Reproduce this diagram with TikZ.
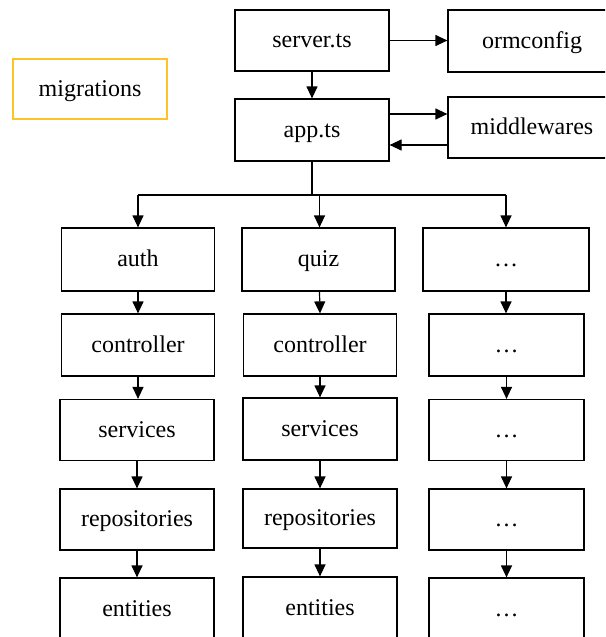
\documentclass[tikz,border=0pt]{standalone}
\usepackage{fontspec}
\setmainfont{Liberation Serif}
\usetikzlibrary{arrows.meta}
\definecolor{migyellow}{RGB}{252,196,40}
\tikzset{
  box/.style={draw, line width=1.2pt, inner sep=0pt, align=center,
    text height=17pt, text depth=3pt,
    font=\fontsize{24}{28}\selectfont},
  wire/.style={line width=1.2pt},
  arr/.style={wire, -{Triangle[length=12pt,width=11pt]}}
}
\begin{document}
\begin{tikzpicture}[x=1pt, y=-1pt]
\useasboundingbox (0,0) rectangle (605,637);
\clip (0,0) rectangle (605,637);

% top level
\node[box, minimum width=154pt, minimum height=61pt] (server) at (312,40.5) {server.ts};
\node[box, minimum width=154pt, minimum height=62pt] (app) at (312,130) {app.ts};
\node[box, minimum width=168pt, minimum height=62pt] (orm) at (532,41) {ormconfig};
\node[box, minimum width=168pt, minimum height=61pt] (mw) at (532,127.5) {middlewares};
\node[box, draw=migyellow, minimum width=154pt, minimum height=60pt] (mig) at (90,89) {migrations};

% auth module
\node[box, minimum width=153pt, minimum height=63pt] (auth) at (138,259.5) {auth};
\node[box, minimum width=153pt, minimum height=62pt] (actrl) at (138,345) {controller};
\node[box, minimum width=154pt, minimum height=61pt] (asvc) at (137,430) {services};
\node[box, minimum width=154pt, minimum height=61pt] (arepo) at (137,519.5) {repositories};
\node[box, minimum width=154pt, minimum height=62pt] (aent) at (137,609) {entities};

% quiz module
\node[box, minimum width=153pt, minimum height=63pt] (quiz) at (318.5,259.5) {quiz};
\node[box, minimum width=153pt, minimum height=62pt] (qctrl) at (320,345) {controller};
\node[box, minimum width=154pt, minimum height=62pt] (qsvc) at (320,429) {services};
\node[box, minimum width=154pt, minimum height=59pt] (qrepo) at (320,518.5) {repositories};
\node[box, minimum width=154pt, minimum height=62pt] (qent) at (320,608) {entities};

% further modules
\node[box, minimum width=166pt, minimum height=63pt] (more) at (506,259.5) {…};
\node[box, minimum width=155pt, minimum height=62pt] (mctrl) at (506.5,345) {…};
\node[box, minimum width=155pt, minimum height=61pt] (msvc) at (506.5,430) {…};
\node[box, minimum width=155pt, minimum height=61pt] (mrepo) at (506.5,519.5) {…};
\node[box, minimum width=155pt, minimum height=62pt] (ment) at (506.5,609) {…};

% server and app links
\coordinate (yin) at (0,114);
\coordinate (yout) at (0,145);
\draw[arr] (server.east) -- (orm.west |- server.east);
\draw[arr] (server.south) -- (app.north);
\draw[arr] (app.east |- yin) -- (mw.west |- yin);
\draw[arr] (mw.west |- yout) -- (app.east |- yout);

% distribution bus
\coordinate (busM) at (312,195);
\coordinate (busL) at (138,195);
\coordinate (busQ) at (319.5,195);
\coordinate (busR) at (506,195);
\draw[wire] (app.south) -- (busM);
\draw[wire] (busL) -- (busR);
\draw[arr] (busL) -- (auth.north);
\draw[arr] (busQ) -- (busQ |- quiz.north);
\draw[arr] (busR) -- (more.north);

% module chains
\draw[arr] (auth.south) -- (actrl.north);
\draw[arr] (actrl.south) -- (actrl.south |- asvc.north);
\draw[arr] (asvc.south) -- (arepo.north);
\draw[arr] (arepo.south) -- (aent.north);

\draw[arr] (busQ |- quiz.south) -- (qctrl.north);
\draw[arr] (qctrl.south) -- (qsvc.north);
\draw[arr] (qsvc.south) -- (qrepo.north);
\draw[arr] (qrepo.south) -- (qent.north);

\draw[arr] (more.south) -- (more.south |- mctrl.north);
\draw[arr] (mctrl.south) -- (msvc.north);
\draw[arr] (msvc.south) -- (mrepo.north);
\draw[arr] (mrepo.south) -- (ment.north);
\end{tikzpicture}
\end{document}
